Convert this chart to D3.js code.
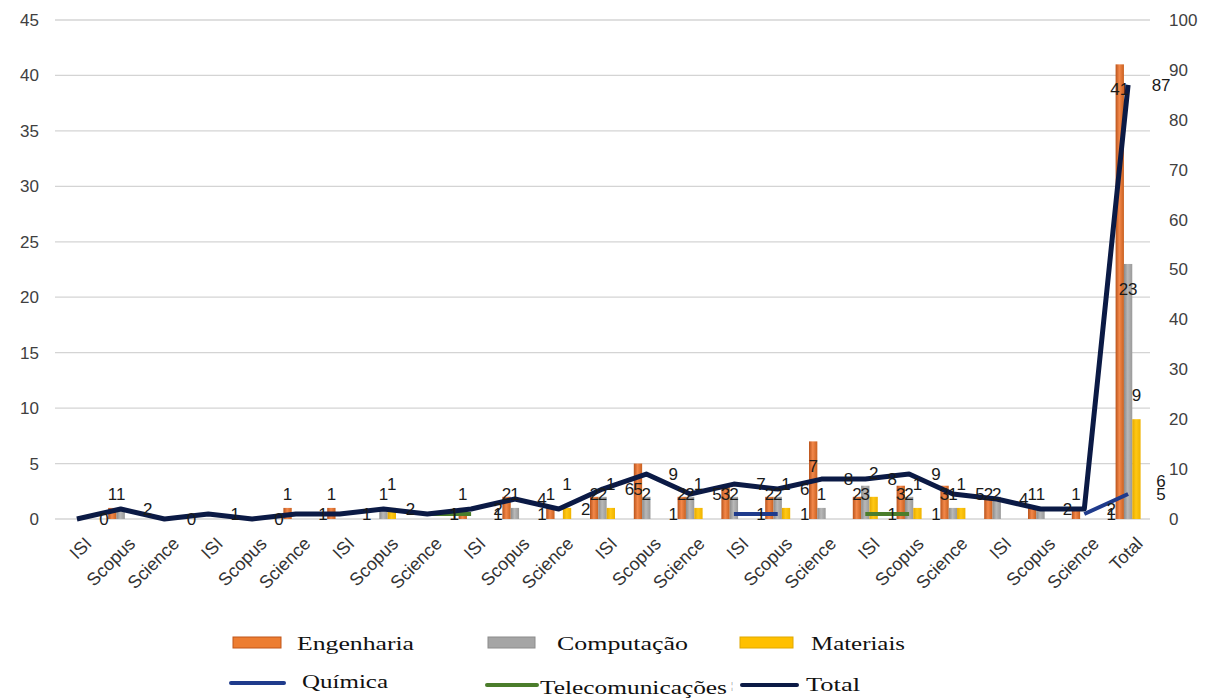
<!DOCTYPE html>
<html>
<head>
<meta charset="utf-8">
<script src="https://cdn.jsdelivr.net/npm/d3@7"></script>
<style>
  body { margin: 0; background: #ffffff; }
  svg { display: block; }
</style>
</head>
<body>
<svg id="chart" width="1218" height="700"></svg>
<script>
// ---- data ----
const categories = [
  "ISI", "Scopus", "Science", "ISI", "Scopus", "Science",
  "ISI", "Scopus", "Science", "ISI", "Scopus", "Science",
  "ISI", "Scopus", "Science", "ISI", "Scopus", "Science",
  "ISI", "Scopus", "Science", "ISI", "Scopus", "Science",
  "Total"
];
// bar series (left axis)
const engenharia = [null, 1, null, null, null, 1, 1, null, null, 1, 2, 1, 2, 5, 2, 3, 2, 7, 2, 3, 3, 2, 1, 1, 41];
const computacao = [null, 1, null, null, null, null, null, 1, null, null, 1, null, 2, 2, 2, 2, 2, 1, 3, 2, 1, 2, 1, null, 23];
const materiais  = [null, null, null, null, null, null, null, 1, null, null, null, 1, 1, null, 1, null, 1, null, 2, 1, 1, null, null, null, 9];
// line series (right axis)
const quimica          = [null, null, null, null, null, null, null, null, null, null, 1, null, null, 1, null, 1, 1, null, null, null, null, null, null, 1, 5];
const telecomunicacoes = [null, null, null, null, null, null, null, null, 1, 1, null, null, null, null, null, null, null, null, 1, 1, null, null, null, null, 6];
const total            = [0, 2, 0, 1, 0, 1, 1, 2, 1, 2, 4, 2, 6, 9, 5, 7, 6, 8, 8, 9, 5, 4, 2, 2, 87];

const leftTicks  = [0, 5, 10, 15, 20, 25, 30, 35, 40, 45];
const rightTicks = [0, 10, 20, 30, 40, 50, 60, 70, 80, 90, 100];

// ---- layout ----
const plot = { left: 55, right: 1150, top: 20, bottom: 519 };
const svg = d3.select("#chart");

const x = d3.scaleBand().domain(d3.range(categories.length)).range([plot.left, plot.right]);
const yL = d3.scaleLinear().domain([0, 45]).range([plot.bottom, plot.top]);
const yR = d3.scaleLinear().domain([0, 100]).range([plot.bottom, plot.top]);
const cx = i => x(i) + x.bandwidth() / 2;

const barSeries = [
  { key: "eng",  name: "Engenharia", values: engenharia, grad: ["#b9531b", "#f3884a", "#c9601f"], legend: "#ed7d31", edge: "#c0561b" },
  { key: "comp", name: "Computação", values: computacao, grad: ["#8a8a8a", "#b8b8b8", "#999999"], legend: "#a5a5a5", edge: "#8c8c8c" },
  { key: "mat",  name: "Materiais",  values: materiais,  grad: ["#e5a800", "#ffc814", "#efb300"], legend: "#ffc000", edge: "#e0a800" }
];
const lineSeries = [
  { key: "qui", name: "Química",          values: quimica,          color: "#1f3b8c", width: 4 },
  { key: "tel", name: "Telecomunicações", values: telecomunicacoes, color: "#4b7d2b", width: 4 },
  { key: "tot", name: "Total",            values: total,            color: "#0b1a45", width: 5 }
];

const x1 = d3.scaleBand().domain(barSeries.map(s => s.key)).range([-12.5, 12.5]);

// gradients for the bars
const defs = svg.append("defs");
barSeries.forEach(s => {
  const g = defs.append("linearGradient").attr("id", "g-" + s.key)
    .attr("x1", 0).attr("x2", 1).attr("y1", 0).attr("y2", 0);
  g.append("stop").attr("offset", 0).attr("stop-color", s.grad[0]);
  g.append("stop").attr("offset", 0.45).attr("stop-color", s.grad[1]);
  g.append("stop").attr("offset", 1).attr("stop-color", s.grad[2]);
});

// ---- gridlines ----
svg.append("g").selectAll("line").data(leftTicks).join("line")
  .attr("x1", plot.left).attr("x2", plot.right)
  .attr("y1", d => yL(d)).attr("y2", d => yL(d))
  .attr("stroke", "#d4d4d4").attr("stroke-width", 1.3);

// ---- axes ----
const tickFont = "'Liberation Sans', Arial, sans-serif";
const axL = svg.append("g").attr("transform", `translate(${plot.left},0)`)
  .call(d3.axisLeft(yL).tickValues(leftTicks).tickSize(0).tickPadding(16));
const axR = svg.append("g").attr("transform", `translate(${plot.right},0)`)
  .call(d3.axisRight(yR).tickValues(rightTicks).tickSize(0).tickPadding(19));
const axB = svg.append("g").attr("transform", `translate(0,${plot.bottom})`)
  .call(d3.axisBottom(x).tickSize(0).tickFormat(i => categories[i]));
[axL, axR, axB].forEach(a => {
  a.select(".domain").remove();
  a.selectAll("text").attr("font-family", tickFont).attr("font-size", 17).attr("fill", "#404040");
});
axB.selectAll("text")
  .attr("text-anchor", "end")
  .attr("font-size", 18)
  .attr("fill", "#333")
  .attr("dy", "0.6em")
  .attr("transform", "translate(6,16) rotate(-45)");

// ---- bars ----
const gBars = svg.append("g");
barSeries.forEach(s => {
  gBars.append("g").selectAll("rect")
    .data(s.values.map((v, i) => ({ v, i })).filter(d => d.v != null))
    .join("rect")
    .attr("x", d => cx(d.i) + x1(s.key))
    .attr("width", x1.bandwidth())
    .attr("y", d => yL(d.v))
    .attr("height", d => yL(0) - yL(d.v))
    .attr("fill", `url(#g-${s.key})`);
});

// ---- lines (gaps where a value is missing) ----
const gLines = svg.append("g");
lineSeries.forEach(s => {
  const line = d3.line()
    .defined(d => d.v != null)
    .x(d => cx(d.i))
    .y(d => yR(d.v));
  gLines.append("path")
    .datum(s.values.map((v, i) => ({ v, i })))
    .attr("d", line)
    .attr("fill", "none")
    .attr("stroke", s.color)
    .attr("stroke-width", s.width)
    .attr("stroke-linejoin", "round")
    .attr("stroke-linecap", "butt");
});

// ---- data labels ----
const labelFont = "'Liberation Sans', Arial, sans-serif";
const gLab = svg.append("g").attr("font-family", labelFont).attr("font-size", 17).attr("fill", "#1a1a1a")
  .attr("text-anchor", "middle");

barSeries.forEach(s => {
  gLab.append("g").selectAll("text")
    .data(s.values.map((v, i) => ({ v, i })).filter(d => d.v != null))
    .join("text")
    .attr("x", d => cx(d.i) + x1(s.key) + x1.bandwidth() / 2)
    .attr("y", d => s.key === "mat" ? yL(d.v) - 24 : Math.min(yL(d.v) + 25, 494))
    .attr("dy", "0.35em")
    .text(d => d.v);
});

lineSeries.forEach(s => {
  gLab.append("g").selectAll("text")
    .data(s.values.map((v, i) => ({ v, i })).filter(d => d.v != null))
    .join("text")
    .attr("x", d => cx(d.i) + (d.i === 24 ? 33 : 27))
    .attr("y", d => yR(d.v) + (s.key === "tel" && d.i === 24 ? -8 : 0))
    .attr("dy", "0.35em")
    .text(d => d.v);
});

// ---- legend ----
const legFont = "'Liberation Serif', 'Times New Roman', serif";
const leg = svg.append("g").attr("font-family", legFont).attr("font-size", 19).attr("fill", "#111");

const legBars = [
  { s: barSeries[0], rx: 233, rw: 48, tx: 297, tl: 117 },
  { s: barSeries[1], rx: 488, rw: 47, tx: 557, tl: 131 },
  { s: barSeries[2], rx: 740, rw: 53, tx: 811, tl: 94 }
];
legBars.forEach(d => {
  leg.append("rect").attr("x", d.rx).attr("y", 637).attr("width", d.rw).attr("height", 11)
    .attr("fill", d.s.legend).attr("stroke", d.s.edge).attr("stroke-width", 1);
  leg.append("text").attr("x", d.tx).attr("y", 650)
    .attr("textLength", d.tl).attr("lengthAdjust", "spacingAndGlyphs").text(d.s.name);
});

const legLines = [
  { s: lineSeries[0], x1: 231, x2: 284, ly: 683, tx: 302, ty: 688, tl: 86 },
  { s: lineSeries[1], x1: 487, x2: 537, ly: 685, tx: 540, ty: 694, tl: 187 },
  { s: lineSeries[2], x1: 742, x2: 797, ly: 685, tx: 806, ty: 691, tl: 54 }
];
legLines.forEach(d => {
  leg.append("line").attr("x1", d.x1).attr("x2", d.x2).attr("y1", d.ly).attr("y2", d.ly)
    .attr("stroke", d.s.color).attr("stroke-width", 4).attr("stroke-linecap", "round");
  leg.append("text").attr("x", d.tx).attr("y", d.ty)
    .attr("textLength", d.tl).attr("lengthAdjust", "spacingAndGlyphs").text(d.s.name);
});
leg.append("text").attr("x", 731).attr("y", 689).attr("font-size", 10).attr("fill", "#777").text("¦");
</script>
</body>
</html>
